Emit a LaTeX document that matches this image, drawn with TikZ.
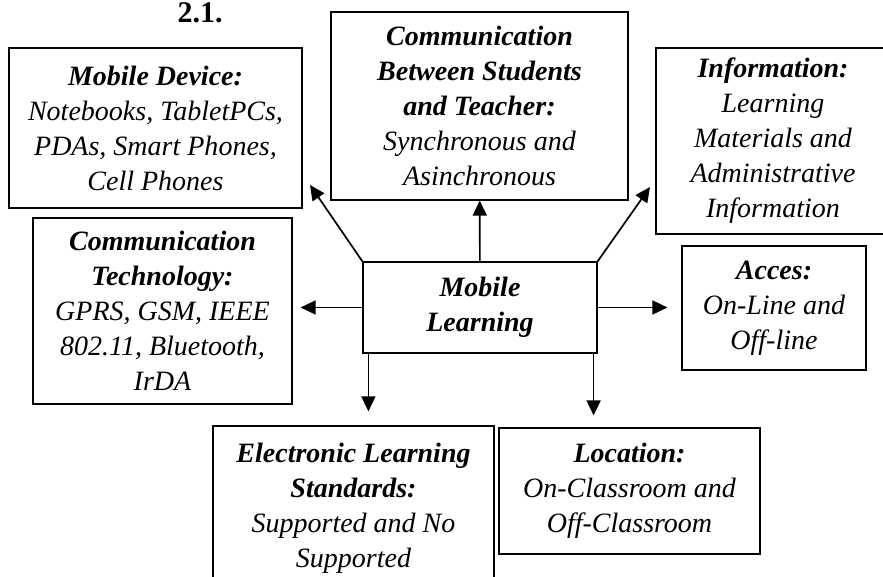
\documentclass[tikz,border=0pt]{standalone}
\usepackage{fontspec}
\setmainfont{Liberation Serif}
\usetikzlibrary{arrows.meta}
\tikzset{%
    box/.style={draw,line width=0.6pt,align=center,inner sep=0pt,
        font=\itshape\fontsize{14}{17.5}\selectfont}
}
\newcommand{\hd}[1]{\textbf{#1}}

\begin{document}
\begin{tikzpicture}[x=0.5pt,y=-0.5pt,
            arr/.style={line width=0.85pt,-{Triangle[length=7.5pt,width=7pt]}}
            ]
            \useasboundingbox (0,0) rectangle (883,577);

            \node[font=\bfseries\fontsize{15}{18}\selectfont] (num) at (200,13){2.1.};

            \node[box,minimum width=146.5pt,minimum height=80pt] (mobdev) at (155.5,128)
                {\hd{Mobile Device:}\\Notebooks, TabletPCs,\\PDAs, Smart Phones,\\Cell Phones};
            \node[box,minimum width=129.5pt,minimum height=93pt] (comtech) at (162.5,311)
                {\hd{Communication}\\\hd{Technology:}\\GPRS, GSM, IEEE\\802.11, Bluetooth,\\IrDA};
            \node[box,minimum width=148.5pt,minimum height=94pt] (combetw) at (479.5,106)
                {\hd{Communication}\\\hd{Between Students}\\\hd{and Teacher:}\\Synchronous and\\Asinchronous};
            \node[box,minimum width=117pt,minimum height=93pt] (info) at (773,141)
                {\hd{Information:}\\Learning\\Materials and\\Administrative\\Information};
            \node[box,minimum width=92pt,minimum height=62pt] (acces) at (774,308)
                {\hd{Acces:}\\On-Line and\\Off-line};
            \node[box,minimum width=117pt,minimum height=45.5pt] (mobl) at (480,307.5)
                {\hd{Mobile}\\\hd{Learning}};
            \node[box,minimum width=140.5pt,minimum height=82pt] (elstd) at (353.5,508)
                {\hd{Electronic Learning}\\\hd{Standards:}\\Supported and No\\Supported};
            \node[box,minimum width=130.5pt,minimum height=63pt] (loc) at (629.5,491)
                {\hd{Location:}\\On-Classroom and\\Off-Classroom};

            \coordinate (tipdev) at (310,185);
            \coordinate (tipinfo) at (650,187);

            \draw[arr] (mobl.north west) -- (tipdev);
            \draw[arr] (mobl) -- (combetw);
            \draw[arr] (mobl.north east) -- (tipinfo);
            \draw[arr,shorten >=4] (mobl.west) -- (mobl.west -| comtech.east);
            \draw[arr,shorten >=7] (mobl.east) -- (mobl.east -| acces.west);
            \draw[arr,shorten >=7] ([xshift=3pt]mobl.south west) -- ([xshift=3pt]mobl.south west |- elstd.north);
            \draw[arr,shorten >=6] ([xshift=-2pt]mobl.south east) -- ([xshift=-2pt]mobl.south east |- loc.north);
        \end{tikzpicture}
\end{document}
